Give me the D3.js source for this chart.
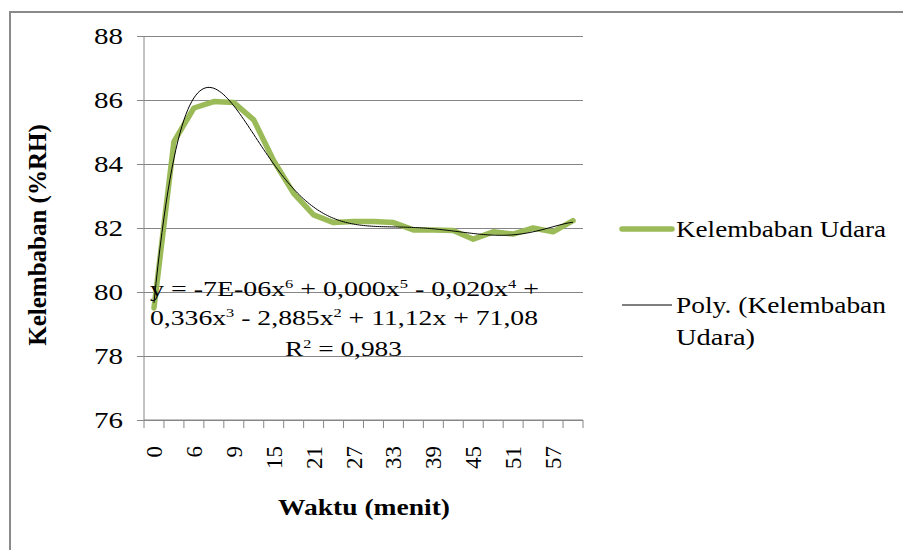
<!DOCTYPE html>
<html><head><meta charset="utf-8">
<script src="https://cdn.jsdelivr.net/npm/d3@7"></script>
<style>
body{margin:0;background:#fff}
svg{display:block}
text{font-family:"Liberation Serif","Times New Roman",serif;fill:#000}
</style>
</head><body>
<svg id="c" width="903" height="550"></svg>
<script>
// ---- data ----
const categories = ["0","3","6","8","9","12","15","18","21","24","27","30","33","36","39","42","45","48","51","54","57","60"];
const humidity = [79.5,84.7,85.75,85.95,85.92,85.38,84.1,83.08,82.41,82.17,82.2,82.2,82.17,81.94,81.94,81.92,81.65,81.88,81.81,82.0,81.88,82.23];
const yTicks = [76,78,80,82,84,86,88];
const seriesName = "Kelembaban Udara";
const trendLabel = ["Poly. (Kelembaban","Udara)"];
const yTitle = "Kelembaban (%RH)";
const xTitle = "Waktu (menit)";
const eqLine1 = [["y = -7E-06x",0],["6",1],[" + 0,000x",0],["5",1],[" - 0,020x",0],["4",1],[" +",0]];
const eqLine2 = [["0,336x",0],["3",1],[" - 2,885x",0],["2",1],[" + 11,12x + 71,08",0]];
const eqLine3 = [["R",0],["2",1],[" = 0,983",0]];

// ---- layout ----
const L = 144, R = 583, T = 36, B = 420;
const svg = d3.select("#c");
const grid = "#868686";

svg.append("rect").attr("x",10).attr("y",12).attr("width",1000).attr("height",1000)
  .attr("fill","none").attr("stroke","#8a8a8a").attr("stroke-width",2);

const x = d3.scaleBand().domain(categories).range([L,R]).padding(0);
const y = d3.scaleLinear().domain([76,88]).range([B,T]);
const bw = x.bandwidth();
const cx = c => x(c) + bw/2;

// y axis with gridlines
const ya = svg.append("g").attr("transform",`translate(${L},0)`)
  .call(d3.axisLeft(y).tickValues(yTicks).tickSizeOuter(0).tickFormat(d3.format("d")));
ya.select(".domain").remove();
ya.selectAll(".tick line").attr("x1",-7).attr("x2",R-L).attr("stroke",grid);
ya.selectAll(".tick text").attr("x",-21).attr("font-size",23)
  .attr("font-family","Liberation Serif").attr("textLength",29).attr("lengthAdjust","spacingAndGlyphs")
  .attr("dy","0.34em");
// y axis line
svg.append("line").attr("x1",L).attr("x2",L).attr("y1",T).attr("y2",B).attr("stroke",grid);

// x axis
const xa = svg.append("g").attr("transform",`translate(0,${B})`)
  .call(d3.axisBottom(x).tickSize(0).tickFormat((d,i)=> i%2===0 ? d : ""));
xa.select(".domain").attr("stroke",grid).attr("d",`M${L},0H${R}`);
xa.selectAll(".tick text")
  .attr("font-size",23).attr("font-family","Liberation Serif")
  .attr("transform","rotate(-90)").attr("text-anchor","end")
  .attr("x",-26).attr("y",0).attr("dy","0.35em");
// boundary tick marks
const bounds = categories.map(c=>x(c)).concat([x(categories[categories.length-1])+bw]);
svg.append("g").selectAll("line").data(bounds).join("line")
  .attr("x1",d=>d).attr("x2",d=>d).attr("y1",B).attr("y2",B+8).attr("stroke",grid);

// polynomial trendline (6th order least squares on x = 1..n)
function polyfit(xs, ys, deg){
  const m = (xs[0]+xs[xs.length-1])/2, s = (xs[xs.length-1]-xs[0])/2;
  const n = deg+1;
  const A = Array.from({length:n},()=>new Array(n+1).fill(0));
  xs.forEach((xv,k)=>{
    const t=(xv-m)/s; const p=[]; let v=1;
    for(let i=0;i<2*n;i++){p.push(v); v*=t;}
    for(let i=0;i<n;i++){ for(let j=0;j<n;j++) A[i][j]+=p[i+j]; A[i][n]+=p[i]*ys[k]; }
  });
  for(let i=0;i<n;i++){
    let mx=i; for(let r=i+1;r<n;r++) if(Math.abs(A[r][i])>Math.abs(A[mx][i])) mx=r;
    [A[i],A[mx]]=[A[mx],A[i]];
    for(let r=0;r<n;r++){ if(r===i) continue; const f=A[r][i]/A[i][i]; for(let c=i;c<=n;c++) A[r][c]-=f*A[i][c]; }
  }
  const coef = A.map((row,i)=>row[n]/row[i]);
  return xv => { const t=(xv-m)/s; let v=0, p=1; for(const c of coef){ v+=c*p; p*=t; } return v; };
}
const idx = humidity.map((_,i)=>i+1);
const fit = polyfit(idx, humidity, 6);
const xi = d3.scaleLinear().domain([1,categories.length]).range([cx(categories[0]), cx(categories[categories.length-1])]);
const samples = d3.range(1, categories.length+0.001, 0.1);

// series line
svg.append("path").datum(humidity)
  .attr("fill","none").attr("stroke","#9BBB59").attr("stroke-width",5.5)
  .attr("stroke-linejoin","round").attr("stroke-linecap","round")
  .attr("d", d3.line().x((d,i)=>cx(categories[i])).y(d=>y(d)));

svg.append("path").datum(samples)
  .attr("fill","none").attr("stroke","#000").attr("stroke-width",1)
  .attr("d", d3.line().x(d=>xi(d)).y(d=>y(fit(d))));

// equation label
function eq(parts, xPos, yPos, len){
  const t = svg.append("text").attr("x",xPos).attr("y",yPos).attr("font-size",22)
    .attr("textLength",len).attr("lengthAdjust","spacingAndGlyphs");
  let prevSup = 0;
  parts.forEach(([s,sup])=>{
    const ts = t.append("tspan").text(s);
    if(sup){ ts.attr("font-size",13).attr("dy",-8); }
    else if(prevSup){ ts.attr("dy",8); }
    prevSup = sup;
  });
}
eq(eqLine1, 150, 296, 389);
eq(eqLine2, 150, 325, 388);
eq(eqLine3, 285, 356, 117);

// axis titles
svg.append("text").attr("transform","translate(46,235) rotate(-90)")
  .attr("text-anchor","middle").attr("font-weight","bold").attr("font-size",25)
  .text(yTitle);
svg.append("text").attr("x",278).attr("y",515)
  .attr("font-weight","bold").attr("font-size",24)
  .attr("textLength",172).attr("lengthAdjust","spacingAndGlyphs").text(xTitle);

// legend
const lg = svg.append("g");
lg.append("line").attr("x1",622).attr("x2",672).attr("y1",229).attr("y2",229)
  .attr("stroke","#9BBB59").attr("stroke-width",5.5).attr("stroke-linecap","round");
lg.append("text").attr("x",676).attr("y",237).attr("font-size",23)
  .attr("textLength",210).attr("lengthAdjust","spacingAndGlyphs").text(seriesName);
lg.append("line").attr("x1",622).attr("x2",672).attr("y1",305).attr("y2",305)
  .attr("stroke","#000").attr("stroke-width",1);
lg.append("text").attr("x",676).attr("y",313).attr("font-size",23)
  .attr("textLength",210).attr("lengthAdjust","spacingAndGlyphs").text(trendLabel[0]);
lg.append("text").attr("x",676).attr("y",345).attr("font-size",23)
  .attr("textLength",79).attr("lengthAdjust","spacingAndGlyphs").text(trendLabel[1]);
</script>
</body></html>
